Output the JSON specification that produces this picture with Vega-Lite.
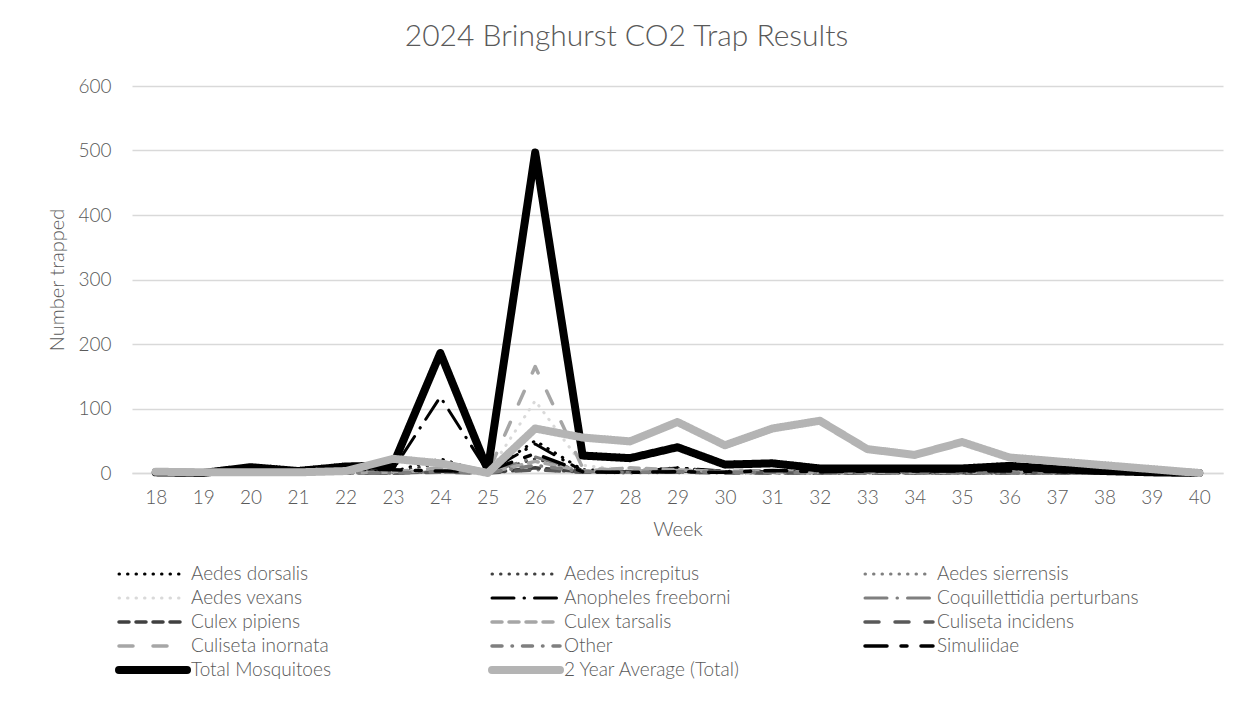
{
  "$schema": "https://vega.github.io/schema/vega-lite/v6.json",
  "autosize": {"type": "none"},
  "width": 1091,
  "height": 387,
  "padding": {"left": 132, "top": 86, "right": 28, "bottom": 229},
  "background": "white",
  "title": {
    "text": "2024 Bringhurst CO2 Trap Results",
    "font": "Lato",
    "fontSize": 30,
    "fontWeight": 300,
    "color": "#595959",
    "anchor": "middle",
    "dx": -51,
    "offset": 25
  },
  "config": {
    "view": {"stroke": null},
    "axis": {
      "labelFont": "Lato",
      "labelFontWeight": 300,
      "labelFontSize": 19,
      "labelColor": "#595959",
      "titleFont": "Lato",
      "titleFontWeight": 300,
      "titleFontSize": 20,
      "titleColor": "#595959",
      "ticks": false
    }
  },
  "data": {
    "values": [
      {"week":18,"species":"Aedes dorsalis","count":0},{"week":19,"species":"Aedes dorsalis","count":0},{"week":20,"species":"Aedes dorsalis","count":0},{"week":21,"species":"Aedes dorsalis","count":0},{"week":22,"species":"Aedes dorsalis","count":0},{"week":23,"species":"Aedes dorsalis","count":2},{"week":24,"species":"Aedes dorsalis","count":22},{"week":25,"species":"Aedes dorsalis","count":0},{"week":26,"species":"Aedes dorsalis","count":50},{"week":27,"species":"Aedes dorsalis","count":5},{"week":28,"species":"Aedes dorsalis","count":3},{"week":29,"species":"Aedes dorsalis","count":8},{"week":30,"species":"Aedes dorsalis","count":2},{"week":31,"species":"Aedes dorsalis","count":1},{"week":32,"species":"Aedes dorsalis","count":0},{"week":33,"species":"Aedes dorsalis","count":0},{"week":34,"species":"Aedes dorsalis","count":0},{"week":35,"species":"Aedes dorsalis","count":0},{"week":36,"species":"Aedes dorsalis","count":0},{"week":37,"species":"Aedes dorsalis","count":0},{"week":38,"species":"Aedes dorsalis","count":0},{"week":39,"species":"Aedes dorsalis","count":0},{"week":40,"species":"Aedes dorsalis","count":0},
      {"week":18,"species":"Aedes increpitus","count":0},{"week":19,"species":"Aedes increpitus","count":0},{"week":20,"species":"Aedes increpitus","count":0},{"week":21,"species":"Aedes increpitus","count":0},{"week":22,"species":"Aedes increpitus","count":0},{"week":23,"species":"Aedes increpitus","count":1},{"week":24,"species":"Aedes increpitus","count":15},{"week":25,"species":"Aedes increpitus","count":0},{"week":26,"species":"Aedes increpitus","count":22},{"week":27,"species":"Aedes increpitus","count":3},{"week":28,"species":"Aedes increpitus","count":2},{"week":29,"species":"Aedes increpitus","count":3},{"week":30,"species":"Aedes increpitus","count":1},{"week":31,"species":"Aedes increpitus","count":0},{"week":32,"species":"Aedes increpitus","count":0},{"week":33,"species":"Aedes increpitus","count":0},{"week":34,"species":"Aedes increpitus","count":0},{"week":35,"species":"Aedes increpitus","count":0},{"week":36,"species":"Aedes increpitus","count":0},{"week":37,"species":"Aedes increpitus","count":0},{"week":38,"species":"Aedes increpitus","count":0},{"week":39,"species":"Aedes increpitus","count":0},{"week":40,"species":"Aedes increpitus","count":0},
      {"week":18,"species":"Aedes sierrensis","count":0},{"week":19,"species":"Aedes sierrensis","count":0},{"week":20,"species":"Aedes sierrensis","count":0},{"week":21,"species":"Aedes sierrensis","count":0},{"week":22,"species":"Aedes sierrensis","count":0},{"week":23,"species":"Aedes sierrensis","count":0},{"week":24,"species":"Aedes sierrensis","count":2},{"week":25,"species":"Aedes sierrensis","count":0},{"week":26,"species":"Aedes sierrensis","count":5},{"week":27,"species":"Aedes sierrensis","count":1},{"week":28,"species":"Aedes sierrensis","count":0},{"week":29,"species":"Aedes sierrensis","count":1},{"week":30,"species":"Aedes sierrensis","count":0},{"week":31,"species":"Aedes sierrensis","count":0},{"week":32,"species":"Aedes sierrensis","count":0},{"week":33,"species":"Aedes sierrensis","count":0},{"week":34,"species":"Aedes sierrensis","count":0},{"week":35,"species":"Aedes sierrensis","count":0},{"week":36,"species":"Aedes sierrensis","count":0},{"week":37,"species":"Aedes sierrensis","count":0},{"week":38,"species":"Aedes sierrensis","count":0},{"week":39,"species":"Aedes sierrensis","count":0},{"week":40,"species":"Aedes sierrensis","count":0},
      {"week":18,"species":"Aedes vexans","count":0},{"week":19,"species":"Aedes vexans","count":0},{"week":20,"species":"Aedes vexans","count":0},{"week":21,"species":"Aedes vexans","count":0},{"week":22,"species":"Aedes vexans","count":0},{"week":23,"species":"Aedes vexans","count":1},{"week":24,"species":"Aedes vexans","count":8},{"week":25,"species":"Aedes vexans","count":0},{"week":26,"species":"Aedes vexans","count":112},{"week":27,"species":"Aedes vexans","count":12},{"week":28,"species":"Aedes vexans","count":4},{"week":29,"species":"Aedes vexans","count":6},{"week":30,"species":"Aedes vexans","count":2},{"week":31,"species":"Aedes vexans","count":1},{"week":32,"species":"Aedes vexans","count":1},{"week":33,"species":"Aedes vexans","count":0},{"week":34,"species":"Aedes vexans","count":0},{"week":35,"species":"Aedes vexans","count":0},{"week":36,"species":"Aedes vexans","count":0},{"week":37,"species":"Aedes vexans","count":0},{"week":38,"species":"Aedes vexans","count":0},{"week":39,"species":"Aedes vexans","count":0},{"week":40,"species":"Aedes vexans","count":0},
      {"week":18,"species":"Anopheles freeborni","count":0},{"week":19,"species":"Anopheles freeborni","count":0},{"week":20,"species":"Anopheles freeborni","count":0},{"week":21,"species":"Anopheles freeborni","count":0},{"week":22,"species":"Anopheles freeborni","count":0},{"week":23,"species":"Anopheles freeborni","count":5},{"week":24,"species":"Anopheles freeborni","count":118},{"week":25,"species":"Anopheles freeborni","count":2},{"week":26,"species":"Anopheles freeborni","count":45},{"week":27,"species":"Anopheles freeborni","count":3},{"week":28,"species":"Anopheles freeborni","count":2},{"week":29,"species":"Anopheles freeborni","count":8},{"week":30,"species":"Anopheles freeborni","count":3},{"week":31,"species":"Anopheles freeborni","count":2},{"week":32,"species":"Anopheles freeborni","count":1},{"week":33,"species":"Anopheles freeborni","count":1},{"week":34,"species":"Anopheles freeborni","count":1},{"week":35,"species":"Anopheles freeborni","count":1},{"week":36,"species":"Anopheles freeborni","count":2},{"week":37,"species":"Anopheles freeborni","count":1},{"week":38,"species":"Anopheles freeborni","count":0},{"week":39,"species":"Anopheles freeborni","count":0},{"week":40,"species":"Anopheles freeborni","count":0},
      {"week":18,"species":"Coquillettidia perturbans","count":0},{"week":19,"species":"Coquillettidia perturbans","count":0},{"week":20,"species":"Coquillettidia perturbans","count":0},{"week":21,"species":"Coquillettidia perturbans","count":0},{"week":22,"species":"Coquillettidia perturbans","count":0},{"week":23,"species":"Coquillettidia perturbans","count":0},{"week":24,"species":"Coquillettidia perturbans","count":2},{"week":25,"species":"Coquillettidia perturbans","count":0},{"week":26,"species":"Coquillettidia perturbans","count":25},{"week":27,"species":"Coquillettidia perturbans","count":2},{"week":28,"species":"Coquillettidia perturbans","count":1},{"week":29,"species":"Coquillettidia perturbans","count":2},{"week":30,"species":"Coquillettidia perturbans","count":1},{"week":31,"species":"Coquillettidia perturbans","count":0},{"week":32,"species":"Coquillettidia perturbans","count":0},{"week":33,"species":"Coquillettidia perturbans","count":0},{"week":34,"species":"Coquillettidia perturbans","count":0},{"week":35,"species":"Coquillettidia perturbans","count":0},{"week":36,"species":"Coquillettidia perturbans","count":0},{"week":37,"species":"Coquillettidia perturbans","count":0},{"week":38,"species":"Coquillettidia perturbans","count":0},{"week":39,"species":"Coquillettidia perturbans","count":0},{"week":40,"species":"Coquillettidia perturbans","count":0},
      {"week":18,"species":"Culex pipiens","count":0},{"week":19,"species":"Culex pipiens","count":0},{"week":20,"species":"Culex pipiens","count":0},{"week":21,"species":"Culex pipiens","count":0},{"week":22,"species":"Culex pipiens","count":0},{"week":23,"species":"Culex pipiens","count":0},{"week":24,"species":"Culex pipiens","count":2},{"week":25,"species":"Culex pipiens","count":0},{"week":26,"species":"Culex pipiens","count":8},{"week":27,"species":"Culex pipiens","count":2},{"week":28,"species":"Culex pipiens","count":2},{"week":29,"species":"Culex pipiens","count":3},{"week":30,"species":"Culex pipiens","count":2},{"week":31,"species":"Culex pipiens","count":3},{"week":32,"species":"Culex pipiens","count":1},{"week":33,"species":"Culex pipiens","count":1},{"week":34,"species":"Culex pipiens","count":1},{"week":35,"species":"Culex pipiens","count":1},{"week":36,"species":"Culex pipiens","count":2},{"week":37,"species":"Culex pipiens","count":1},{"week":38,"species":"Culex pipiens","count":0},{"week":39,"species":"Culex pipiens","count":0},{"week":40,"species":"Culex pipiens","count":0},
      {"week":18,"species":"Culex tarsalis","count":0},{"week":19,"species":"Culex tarsalis","count":0},{"week":20,"species":"Culex tarsalis","count":0},{"week":21,"species":"Culex tarsalis","count":0},{"week":22,"species":"Culex tarsalis","count":0},{"week":23,"species":"Culex tarsalis","count":1},{"week":24,"species":"Culex tarsalis","count":3},{"week":25,"species":"Culex tarsalis","count":0},{"week":26,"species":"Culex tarsalis","count":18},{"week":27,"species":"Culex tarsalis","count":3},{"week":28,"species":"Culex tarsalis","count":8},{"week":29,"species":"Culex tarsalis","count":5},{"week":30,"species":"Culex tarsalis","count":2},{"week":31,"species":"Culex tarsalis","count":3},{"week":32,"species":"Culex tarsalis","count":2},{"week":33,"species":"Culex tarsalis","count":2},{"week":34,"species":"Culex tarsalis","count":2},{"week":35,"species":"Culex tarsalis","count":2},{"week":36,"species":"Culex tarsalis","count":3},{"week":37,"species":"Culex tarsalis","count":2},{"week":38,"species":"Culex tarsalis","count":1},{"week":39,"species":"Culex tarsalis","count":0},{"week":40,"species":"Culex tarsalis","count":0},
      {"week":18,"species":"Culiseta incidens","count":0},{"week":19,"species":"Culiseta incidens","count":0},{"week":20,"species":"Culiseta incidens","count":0},{"week":21,"species":"Culiseta incidens","count":0},{"week":22,"species":"Culiseta incidens","count":0},{"week":23,"species":"Culiseta incidens","count":0},{"week":24,"species":"Culiseta incidens","count":1},{"week":25,"species":"Culiseta incidens","count":0},{"week":26,"species":"Culiseta incidens","count":5},{"week":27,"species":"Culiseta incidens","count":1},{"week":28,"species":"Culiseta incidens","count":1},{"week":29,"species":"Culiseta incidens","count":1},{"week":30,"species":"Culiseta incidens","count":0},{"week":31,"species":"Culiseta incidens","count":0},{"week":32,"species":"Culiseta incidens","count":0},{"week":33,"species":"Culiseta incidens","count":0},{"week":34,"species":"Culiseta incidens","count":0},{"week":35,"species":"Culiseta incidens","count":0},{"week":36,"species":"Culiseta incidens","count":0},{"week":37,"species":"Culiseta incidens","count":0},{"week":38,"species":"Culiseta incidens","count":0},{"week":39,"species":"Culiseta incidens","count":0},{"week":40,"species":"Culiseta incidens","count":0},
      {"week":18,"species":"Culiseta inornata","count":0},{"week":19,"species":"Culiseta inornata","count":0},{"week":20,"species":"Culiseta inornata","count":0},{"week":21,"species":"Culiseta inornata","count":0},{"week":22,"species":"Culiseta inornata","count":0},{"week":23,"species":"Culiseta inornata","count":2},{"week":24,"species":"Culiseta inornata","count":8},{"week":25,"species":"Culiseta inornata","count":0},{"week":26,"species":"Culiseta inornata","count":165},{"week":27,"species":"Culiseta inornata","count":8},{"week":28,"species":"Culiseta inornata","count":3},{"week":29,"species":"Culiseta inornata","count":4},{"week":30,"species":"Culiseta inornata","count":2},{"week":31,"species":"Culiseta inornata","count":1},{"week":32,"species":"Culiseta inornata","count":1},{"week":33,"species":"Culiseta inornata","count":1},{"week":34,"species":"Culiseta inornata","count":1},{"week":35,"species":"Culiseta inornata","count":1},{"week":36,"species":"Culiseta inornata","count":1},{"week":37,"species":"Culiseta inornata","count":1},{"week":38,"species":"Culiseta inornata","count":0},{"week":39,"species":"Culiseta inornata","count":0},{"week":40,"species":"Culiseta inornata","count":0},
      {"week":18,"species":"Other","count":0},{"week":19,"species":"Other","count":0},{"week":20,"species":"Other","count":0},{"week":21,"species":"Other","count":0},{"week":22,"species":"Other","count":0},{"week":23,"species":"Other","count":0},{"week":24,"species":"Other","count":2},{"week":25,"species":"Other","count":0},{"week":26,"species":"Other","count":12},{"week":27,"species":"Other","count":2},{"week":28,"species":"Other","count":1},{"week":29,"species":"Other","count":2},{"week":30,"species":"Other","count":1},{"week":31,"species":"Other","count":1},{"week":32,"species":"Other","count":0},{"week":33,"species":"Other","count":0},{"week":34,"species":"Other","count":0},{"week":35,"species":"Other","count":0},{"week":36,"species":"Other","count":0},{"week":37,"species":"Other","count":0},{"week":38,"species":"Other","count":0},{"week":39,"species":"Other","count":0},{"week":40,"species":"Other","count":0},
      {"week":18,"species":"Simuliidae","count":1},{"week":19,"species":"Simuliidae","count":0},{"week":20,"species":"Simuliidae","count":8},{"week":21,"species":"Simuliidae","count":2},{"week":22,"species":"Simuliidae","count":6},{"week":23,"species":"Simuliidae","count":5},{"week":24,"species":"Simuliidae","count":3},{"week":25,"species":"Simuliidae","count":3},{"week":26,"species":"Simuliidae","count":30},{"week":27,"species":"Simuliidae","count":2},{"week":28,"species":"Simuliidae","count":1},{"week":29,"species":"Simuliidae","count":2},{"week":30,"species":"Simuliidae","count":1},{"week":31,"species":"Simuliidae","count":4},{"week":32,"species":"Simuliidae","count":2},{"week":33,"species":"Simuliidae","count":3},{"week":34,"species":"Simuliidae","count":3},{"week":35,"species":"Simuliidae","count":3},{"week":36,"species":"Simuliidae","count":3},{"week":37,"species":"Simuliidae","count":2},{"week":38,"species":"Simuliidae","count":2},{"week":39,"species":"Simuliidae","count":1},{"week":40,"species":"Simuliidae","count":0},
      {"week":18,"species":"Total Mosquitoes","count":1},{"week":19,"species":"Total Mosquitoes","count":0},{"week":20,"species":"Total Mosquitoes","count":9},{"week":21,"species":"Total Mosquitoes","count":3},{"week":22,"species":"Total Mosquitoes","count":10},{"week":23,"species":"Total Mosquitoes","count":12},{"week":24,"species":"Total Mosquitoes","count":186},{"week":25,"species":"Total Mosquitoes","count":5},{"week":26,"species":"Total Mosquitoes","count":497},{"week":27,"species":"Total Mosquitoes","count":27},{"week":28,"species":"Total Mosquitoes","count":23},{"week":29,"species":"Total Mosquitoes","count":40},{"week":30,"species":"Total Mosquitoes","count":13},{"week":31,"species":"Total Mosquitoes","count":15},{"week":32,"species":"Total Mosquitoes","count":7},{"week":33,"species":"Total Mosquitoes","count":7},{"week":34,"species":"Total Mosquitoes","count":7},{"week":35,"species":"Total Mosquitoes","count":7},{"week":36,"species":"Total Mosquitoes","count":11},{"week":37,"species":"Total Mosquitoes","count":6},{"week":38,"species":"Total Mosquitoes","count":3},{"week":39,"species":"Total Mosquitoes","count":1},{"week":40,"species":"Total Mosquitoes","count":0},
      {"week":18,"species":"2 Year Average (Total)","count":2},{"week":19,"species":"2 Year Average (Total)","count":1},{"week":20,"species":"2 Year Average (Total)","count":1},{"week":21,"species":"2 Year Average (Total)","count":1},{"week":22,"species":"2 Year Average (Total)","count":3},{"week":23,"species":"2 Year Average (Total)","count":22},{"week":24,"species":"2 Year Average (Total)","count":15},{"week":25,"species":"2 Year Average (Total)","count":0},{"week":26,"species":"2 Year Average (Total)","count":69},{"week":27,"species":"2 Year Average (Total)","count":55},{"week":28,"species":"2 Year Average (Total)","count":49},{"week":29,"species":"2 Year Average (Total)","count":79},{"week":30,"species":"2 Year Average (Total)","count":43},{"week":31,"species":"2 Year Average (Total)","count":69},{"week":32,"species":"2 Year Average (Total)","count":81},{"week":33,"species":"2 Year Average (Total)","count":37},{"week":34,"species":"2 Year Average (Total)","count":28},{"week":35,"species":"2 Year Average (Total)","count":48},{"week":36,"species":"2 Year Average (Total)","count":24},{"week":37,"species":"2 Year Average (Total)","count":18},{"week":38,"species":"2 Year Average (Total)","count":12},{"week":39,"species":"2 Year Average (Total)","count":6},{"week":40,"species":"2 Year Average (Total)","count":0}
    ]
  },
  "mark": {"type": "line", "strokeCap": "round", "strokeJoin": "round"},
  "encoding": {
    "x": {
      "field": "week",
      "type": "ordinal",
      "sort": "ascending",
      "axis": {
        "title": "Week",
        "labelAngle": 0,
        "labelPadding": 15,
        "titlePadding": 12,
        "domain": true,
        "domainColor": "#d9d9d9",
        "domainWidth": 1.5,
        "grid": false
      }
    },
    "y": {
      "field": "count",
      "type": "quantitative",
      "scale": {"domain": [0, 600], "nice": false},
      "axis": {
        "title": "Number trapped",
        "values": [0, 100, 200, 300, 400, 500, 600],
        "domain": false,
        "grid": true,
        "gridColor": "#d9d9d9",
        "gridWidth": 1.5,
        "labelPadding": 21,
        "titlePadding": 10
      }
    },
    "color": {
      "field": "species",
      "type": "nominal",
      "scale": {
        "domain": ["Aedes dorsalis","Aedes increpitus","Aedes sierrensis","Aedes vexans","Anopheles freeborni","Coquillettidia perturbans","Culex pipiens","Culex tarsalis","Culiseta incidens","Culiseta inornata","Other","Simuliidae","Total Mosquitoes","2 Year Average (Total)"],
        "range": ["#000000","#404040","#7f7f7f","#d9d9d9","#000000","#7f7f7f","#404040","#a6a6a6","#595959","#a6a6a6","#7f7f7f","#000000","#000000","#b4b4b4"]
      },
      "legend": {
        "title": null, "orient": "none", "legendX": -17, "legendY": 478,
        "direction": "horizontal",
        "columns": 3, "gridAlign": "all", "columnPadding": 95, "rowPadding": 4,
        "symbolType": "stroke", "symbolSize": 4624, "clipHeight": 20,
        "labelFont": "Lato", "labelFontSize": 19, "labelFontWeight": 300, "labelColor": "#595959",
        "labelOffset": 0, "labelLimit": 0, "padding": 0,
        "encode": {"symbols": {"update": {"strokeCap": {"value": "round"}}}}
      }
    },
    "strokeDash": {
      "field": "species",
      "type": "nominal",
      "scale": {
        "domain": ["Aedes dorsalis","Aedes increpitus","Aedes sierrensis","Aedes vexans","Anopheles freeborni","Coquillettidia perturbans","Culex pipiens","Culex tarsalis","Culiseta incidens","Culiseta inornata","Other","Simuliidae","Total Mosquitoes","2 Year Average (Total)"],
        "range": [[0.5,8],[0.5,8],[0.5,8],[0.5,8],[22,10,0.5,10],[22,10,0.5,10],[10,7],[10,7],[14,16],[14,20],[10,10,0.5,10],[22,14,6,14],[1,0],[1,0]]
      },
      "legend": {
        "title": null, "orient": "none", "legendX": -17, "legendY": 478,
        "direction": "horizontal",
        "columns": 3, "gridAlign": "all", "columnPadding": 95, "rowPadding": 4,
        "symbolType": "stroke", "symbolSize": 4624, "clipHeight": 20,
        "labelFont": "Lato", "labelFontSize": 19, "labelFontWeight": 300, "labelColor": "#595959",
        "labelOffset": 0, "labelLimit": 0, "padding": 0,
        "encode": {"symbols": {"update": {"strokeCap": {"value": "round"}}}}
      }
    },
    "strokeWidth": {
      "field": "species",
      "type": "nominal",
      "scale": {
        "type": "ordinal",
        "domain": ["Aedes dorsalis","Aedes increpitus","Aedes sierrensis","Aedes vexans","Anopheles freeborni","Coquillettidia perturbans","Culex pipiens","Culex tarsalis","Culiseta incidens","Culiseta inornata","Other","Simuliidae","Total Mosquitoes","2 Year Average (Total)"],
        "range": [3,3,3,3,3,3,3.5,3.5,3.5,3.5,3.5,3.5,8,8]
      },
      "legend": {
        "title": null, "orient": "none", "legendX": -17, "legendY": 478,
        "direction": "horizontal",
        "columns": 3, "gridAlign": "all", "columnPadding": 95, "rowPadding": 4,
        "symbolType": "stroke", "symbolSize": 4624, "clipHeight": 20,
        "labelFont": "Lato", "labelFontSize": 19, "labelFontWeight": 300, "labelColor": "#595959",
        "labelOffset": 0, "labelLimit": 0, "padding": 0,
        "encode": {"symbols": {"update": {"strokeCap": {"value": "round"}}}}
      }
    }
  }
}
